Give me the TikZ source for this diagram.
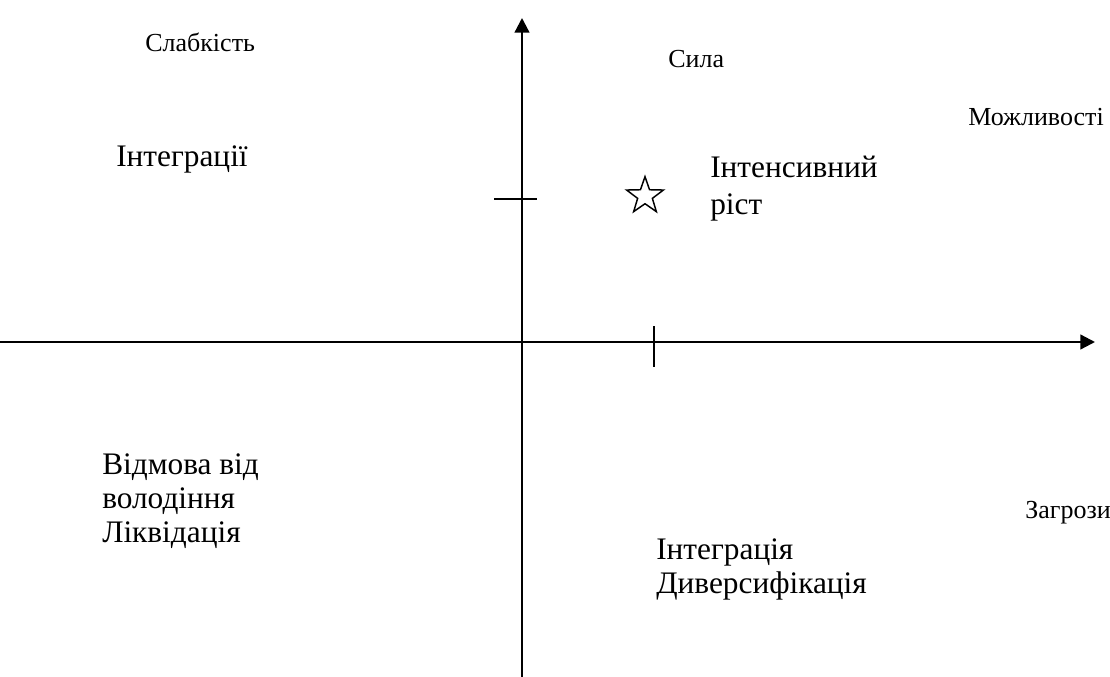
\documentclass[tikz,border=0pt]{standalone}
\usepackage{fontspec}
\setmainfont{Liberation Serif}
\usetikzlibrary{arrows.meta,shapes.geometric}

\tikzset{
  axis/.style={line width=1.7pt, -{Triangle[length=11pt,width=11pt]}},
  tick/.style={line width=1.2pt},
  bigtext/.style={anchor=base west, inner sep=0pt, align=left, font=\fontsize{23.5}{25.3}\selectfont},
  smalltext/.style={anchor=base west, inner sep=0pt, font=\fontsize{19.5}{22}\selectfont}
}

\begin{document}
\begin{tikzpicture}[x=0.75pt, y=-0.75pt]
\useasboundingbox (0,0) rectangle (1110,677);
% axes:
\coordinate (xstart) at (0,342);
\coordinate (xend) at (1095,342);
\coordinate (ystart) at (522,677);
\coordinate (yend) at (522,18);
\draw[axis] (xstart) -- (xend);
\draw[axis] (ystart) -- (yend);
% ticks:
\coordinate (ytickl) at (494,199); \coordinate (ytickr) at (537,199);
\draw[tick] (ytickl) -- (ytickr);
\coordinate (xtickt) at (654,326); \coordinate (xtickb) at (654,367);
\draw[tick] (xtickt) -- (xtickb);
% star:
\node[star, star points=5, star point ratio=2.5, draw, line width=1.1pt,
  minimum size=29pt, inner sep=0pt] (mark) at (645,196) {};
% corner labels:
\node[smalltext] (weak) at (145,52) {Слабкість};
\node[smalltext] (strong) at (668,68) {Сила};
\node[smalltext] (chance) at (968,126) {Можливості};
\node[smalltext] (threat) at (1025,518) {Загрози};
% strategies (base = last line):
\node[bigtext] (integr) at (116,167) {Інтеграції};
\node[bigtext] (growth) at (710,215) {Інтенсивний\\[2.5pt]ріст};
\node[bigtext] (refuse) at (102,542) {Відмова від\\володіння\\Ліквідація};
\node[bigtext] (divers) at (656,593) {Інтеграція\\Диверсифікація};
\end{tikzpicture}
\end{document}
